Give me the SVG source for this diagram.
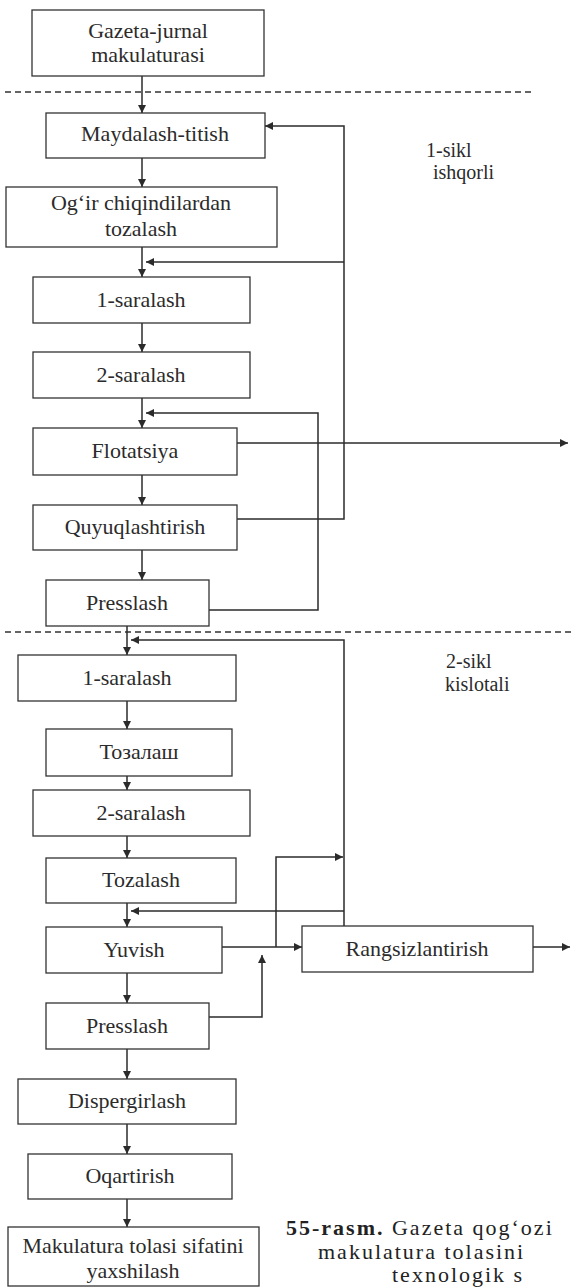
<svg xmlns="http://www.w3.org/2000/svg" width="571" height="1288" viewBox="0 0 571 1288">
<style>
.box{fill:#fff;stroke:#333;stroke-width:1.3}
.lbl{font-family:"Liberation Serif","Times New Roman",serif;font-size:22px;fill:#2b2b2b;text-anchor:middle}
.side{font-family:"Liberation Serif","Times New Roman",serif;font-size:20px;fill:#2b2b2b}
.cap{font-family:"Liberation Serif","Times New Roman",serif;font-size:22px;fill:#222;letter-spacing:2px}
.ln{fill:none;stroke:#2b2b2b;stroke-width:1.5}
.dash{fill:none;stroke:#333;stroke-width:1.3;stroke-dasharray:6 4}
</style>
<defs>
<marker id="ah" viewBox="0 0 10 10" refX="10" refY="5" markerWidth="9" markerHeight="8" markerUnits="userSpaceOnUse" orient="auto">
<path d="M0,0 L10,5 L0,10 z" fill="#2b2b2b"/>
</marker>
</defs>
<rect width="571" height="1288" fill="#fff"/>

<g id="dividers">
<line class="dash" x1="5" y1="92" x2="535" y2="92"/>
<line class="dash" x1="5" y1="632" x2="571" y2="632"/>
</g>

<g id="connectors">
<path class="ln" d="M142,76 V113" marker-end="url(#ah)"/>
<path class="ln" d="M142,158 V187" marker-end="url(#ah)"/>
<path class="ln" d="M142,247 V277" marker-end="url(#ah)"/>
<path class="ln" d="M142,323 V352" marker-end="url(#ah)"/>
<path class="ln" d="M142,398 V428" marker-end="url(#ah)"/>
<path class="ln" d="M142,475 V505" marker-end="url(#ah)"/>
<path class="ln" d="M142,550 V580" marker-end="url(#ah)"/>
<path class="ln" d="M237,519 H344 V126 H265" marker-end="url(#ah)"/>
<path class="ln" d="M344,262 H146" marker-end="url(#ah)"/>
<path class="ln" d="M209,610 H318 V413 H146" marker-end="url(#ah)"/>
<path class="ln" d="M237,443 H568" marker-end="url(#ah)"/>
<path class="ln" d="M127,626 V655" marker-end="url(#ah)"/>
<path class="ln" d="M344,926 V640 H131" marker-end="url(#ah)"/>
<path class="ln" d="M127,701 V729" marker-end="url(#ah)"/>
<path class="ln" d="M127,776 V790" marker-end="url(#ah)"/>
<path class="ln" d="M127,836 V858" marker-end="url(#ah)"/>
<path class="ln" d="M127,903 V927" marker-end="url(#ah)"/>
<path class="ln" d="M344,911 H131" marker-end="url(#ah)"/>
<path class="ln" d="M222,947 H302" marker-end="url(#ah)"/>
<path class="ln" d="M276,947 V857 H343" marker-end="url(#ah)"/>
<path class="ln" d="M209,1017 H262 V955" marker-end="url(#ah)"/>
<path class="ln" d="M533,947 H570" marker-end="url(#ah)"/>
<path class="ln" d="M127,973 V1003" marker-end="url(#ah)"/>
<path class="ln" d="M127,1049 V1079" marker-end="url(#ah)"/>
<path class="ln" d="M127,1124 V1154" marker-end="url(#ah)"/>
<path class="ln" d="M127,1199 V1227" marker-end="url(#ah)"/>
</g>

<g id="n1"><rect class="box" x="32" y="10" width="232" height="66"/><text class="lbl" x="148" y="38">Gazeta-jurnal</text><text class="lbl" x="148" y="62">makulaturasi</text></g>
<g id="n2"><rect class="box" x="46" y="113" width="219" height="45"/><text class="lbl" x="155" y="141">Maydalash-titish</text></g>
<g id="n3"><rect class="box" x="6" y="187" width="271" height="60"/><text class="lbl" x="141" y="210">Og‘ir chiqindilardan</text><text class="lbl" x="141" y="236">tozalash</text></g>
<g id="n4"><rect class="box" x="33" y="277" width="217" height="46"/><text class="lbl" x="141" y="307">1-saralash</text></g>
<g id="n5"><rect class="box" x="33" y="352" width="217" height="46"/><text class="lbl" x="141" y="382">2-saralash</text></g>
<g id="n6"><rect class="box" x="33" y="428" width="204" height="47"/><text class="lbl" x="135" y="458">Flotatsiya</text></g>
<g id="n7"><rect class="box" x="33" y="505" width="204" height="45"/><text class="lbl" x="135" y="534">Quyuqlashtirish</text></g>
<g id="n8"><rect class="box" x="46" y="580" width="163" height="46"/><text class="lbl" x="127" y="610">Presslash</text></g>
<g id="n9"><rect class="box" x="18" y="655" width="218" height="46"/><text class="lbl" x="127" y="685">1-saralash</text></g>
<g id="n10"><rect class="box" x="46" y="729" width="186" height="47"/><text class="lbl" x="139" y="759">Тозалаш</text></g>
<g id="n11"><rect class="box" x="33" y="790" width="217" height="46"/><text class="lbl" x="141" y="820">2-saralash</text></g>
<g id="n12"><rect class="box" x="46" y="858" width="190" height="45"/><text class="lbl" x="141" y="887">Tozalash</text></g>
<g id="n13"><rect class="box" x="46" y="927" width="176" height="46"/><text class="lbl" x="134" y="957">Yuvish</text></g>
<g id="n14"><rect class="box" x="46" y="1003" width="163" height="46"/><text class="lbl" x="127" y="1033">Presslash</text></g>
<g id="n15"><rect class="box" x="18" y="1079" width="218" height="45"/><text class="lbl" x="127" y="1108">Dispergirlash</text></g>
<g id="n16"><rect class="box" x="28" y="1154" width="204" height="45"/><text class="lbl" x="130" y="1183">Oqartirish</text></g>
<g id="n17"><rect class="box" x="8" y="1227" width="251" height="59"/><text class="lbl" x="133" y="1253">Makulatura tolasi sifatini</text><text class="lbl" x="133" y="1278">yaxshilash</text></g>
<g id="n18"><rect class="box" x="302" y="926" width="231" height="46"/><text class="lbl" x="417" y="956">Rangsizlantirish</text></g>

<g id="labels">
<text class="side" x="426" y="157">1-sikl</text>
<text class="side" x="433" y="179">ishqorli</text>
<text class="side" x="446" y="668">2-sikl</text>
<text class="side" x="445" y="691">kislotali</text>
</g>

<g id="caption">
<text class="cap" x="286" y="1235"><tspan font-weight="bold">55-rasm.</tspan> Gazeta qog‘ozi</text>
<text class="cap" x="318" y="1259">makulatura tolasini</text>
<text class="cap" x="392" y="1282">texnologik s</text>
</g>
</svg>
